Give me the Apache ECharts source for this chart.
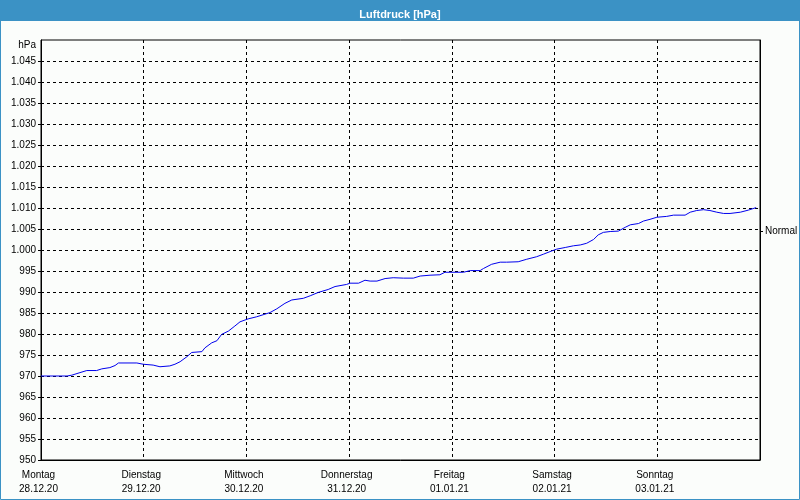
<!DOCTYPE html>
<html>
<head>
<meta charset="utf-8">
<script src="https://cdn.jsdelivr.net/npm/echarts@6/dist/echarts.min.js"></script>
<style>
html,body{margin:0;padding:0;background:#fbfdfb;}
#chart{width:800px;height:500px;}
</style>
</head>
<body>
<div id="chart"></div>
<script>
// ---- data ----
const titleText = 'Luftdruck [hPa]';
const unitLabel = 'hPa';
const dayNames = ['Montag', 'Dienstag', 'Mittwoch', 'Donnerstag', 'Freitag', 'Samstag', 'Sonntag'];
const dayDates = ['28.12.20', '29.12.20', '30.12.20', '31.12.20', '01.01.21', '02.01.21', '03.01.21'];
const yTickValues = [950, 955, 960, 965, 970, 975, 980, 985, 990, 995, 1000, 1005, 1010, 1015, 1020, 1025, 1030, 1035, 1040, 1045];
const normalValue = 1004.4;
const normalLabel = 'Normal';
// hours since 28.12.20 00:00
const hours = [0, 6.1, 7.2, 9.1, 10.7, 13.0, 14.2, 16.1, 17.3, 18.1, 22.4, 23.9, 26.2, 27.8, 30.1, 31.3, 32.5, 34.1, 35.2, 37.6,
  38.3, 39.9, 41.1, 42.2, 43.8, 45.3, 46.5, 48.4, 50.4, 53.5, 55.1, 57.0, 58.6, 61.3, 62.9, 64.8, 67.1, 68.7, 71.4, 72.2,
  74.2, 75.7, 76.9, 78.5, 80.4, 82.3, 84.7, 87.0, 88.6, 90.9, 93.2, 94.4, 98.7, 100.3, 102.6, 103.4, 105.3, 107.3, 108.8, 111.5,
  113.5, 115.8, 117.4, 119.4, 120.5, 122.5, 124.4, 126.0, 127.5, 129.1, 130.2, 131.4, 133.0, 134.9, 136.5, 137.7, 139.6, 140.8, 142.3, 143.9,
  146.2, 147.8, 150.5, 151.7, 153.2, 154.8, 156.3, 157.9, 159.5, 161.0, 163.4, 165.3, 167.1];
const pressure = [970.0, 970.0, 970.2, 970.8, 971.3, 971.3, 971.7, 972.0, 972.5, 973.1, 973.1, 972.8, 972.6, 972.2, 972.4, 972.8, 973.4, 974.6, 975.6, 975.8,
  976.7, 977.9, 978.4, 979.9, 980.7, 981.9, 982.9, 983.6, 984.1, 985.1, 986.0, 987.3, 988.1, 988.5, 989.1, 989.9, 990.6, 991.3, 991.8, 992.1,
  992.1, 992.8, 992.6, 992.6, 993.2, 993.4, 993.3, 993.3, 993.8, 994.0, 994.1, 994.7, 994.7, 995.1, 995.1, 995.6, 996.6, 997.1, 997.1, 997.2,
  997.8, 998.4, 999.0, 999.8, 1000.2, 1000.6, 1001.0, 1001.2, 1001.6, 1002.5, 1003.6, 1004.2, 1004.4, 1004.5, 1005.4, 1006.0, 1006.3, 1006.9, 1007.3, 1007.8,
  1008.0, 1008.3, 1008.3, 1009.0, 1009.4, 1009.6, 1009.4, 1009.0, 1008.7, 1008.7, 1009.0, 1009.5, 1010.1];

const FONT = '"Liberation Sans", Arial, sans-serif';
const FS = 10;
const fmtDE = v => v >= 1000 ? Math.floor(v / 1000) + '.' + String(v % 1000).padStart(3, '0') : String(v);

const chart = echarts.init(document.getElementById('chart'), null, {renderer: 'canvas'});
chart.setOption({
  backgroundColor: '#fbfdfb',
  animation: false,
  title: {
    text: titleText, left: 'center', top: 4,
    textStyle: {color: '#ffffff', fontWeight: 'bold', fontSize: 11, fontFamily: FONT}
  },
  graphic: [
    {type: 'rect', z: -1, shape: {x: 0, y: 0, width: 800, height: 21}, style: {fill: '#3b92c5'}},
    {type: 'rect', z: -1, shape: {x: 0.5, y: 0.5, width: 799, height: 499}, style: {fill: null, stroke: '#3b92c5', lineWidth: 1}},
    {type: 'text', style: {text: unitLabel, x: 36, y: 45, fill: '#000', font: FS + 'px ' + FONT, align: 'right', verticalAlign: 'middle'}}
  ],
  grid: {left: 41, right: 40, top: 40, bottom: 40, outerBoundsMode: 'none', containLabel: false,
    show: true, borderColor: '#000', borderWidth: 1, backgroundColor: 'transparent'},
  xAxis: {
    type: 'value', min: 0, max: 168, interval: 24,
    axisLine: {show: true, lineStyle: {color: '#000', width: 1}},
    axisTick: {show: false},
    splitLine: {show: true, lineStyle: {color: '#000', type: [3, 3], width: 1}},
    axisLabel: {
      color: '#000', fontSize: FS, fontFamily: FONT, lineHeight: 14, margin: 8, padding: [0, 5, 0, 0],
      showMaxLabel: false,
      formatter: v => { const i = Math.round(v / 24); return i < dayNames.length ? dayNames[i] + '\n' + dayDates[i] : ''; }
    }
  },
  yAxis: [{
    type: 'value', min: 950, max: 1050, interval: 5, position: 'left',
    axisLine: {show: true, lineStyle: {color: '#000', width: 1}},
    axisTick: {show: true, inside: false, length: 3, lineStyle: {color: '#000'}, customValues: yTickValues},
    splitLine: {show: true, lineStyle: {color: '#000', type: [3, 3], width: 1}},
    axisLabel: {color: '#000', fontSize: FS, fontFamily: FONT, margin: 5, customValues: yTickValues, formatter: fmtDE}
  }, {
    type: 'value', min: 950, max: 1050, interval: 5, position: 'right',
    axisLine: {show: true, lineStyle: {color: '#000', width: 1}},
    axisTick: {show: true, inside: false, length: 3, lineStyle: {color: '#000'}, customValues: [normalValue]},
    splitLine: {show: false},
    axisLabel: {color: '#000', fontSize: FS, fontFamily: FONT, margin: 5, customValues: [normalValue], formatter: () => normalLabel}
  }],
  series: [{
    type: 'line', yAxisIndex: 0, showSymbol: false, symbol: 'none',
    lineStyle: {color: '#0000ee', width: 1},
    data: hours.map((h, i) => [h, pressure[i]])
  }]
});
</script>
</body>
</html>
